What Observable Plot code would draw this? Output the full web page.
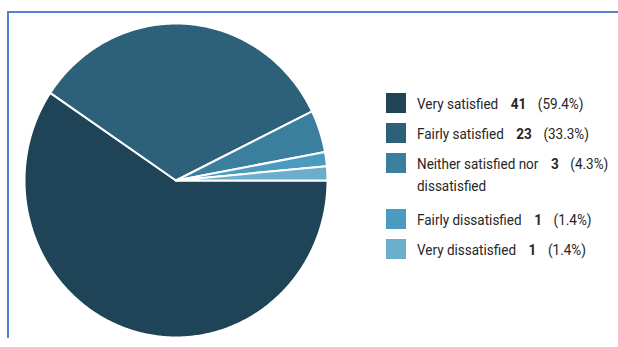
<!DOCTYPE html>
<html>
<head>
<meta charset="utf-8">
<script src="https://cdn.jsdelivr.net/npm/d3@7"></script>
<script src="https://cdn.jsdelivr.net/npm/@observablehq/plot@0.6"></script>
<style>
  html, body { margin: 0; padding: 0; background: #fff; }
  #wrap { position: relative; width: 618px; height: 347px; overflow: hidden; font-family: Roboto, sans-serif; }
  #frame { position: absolute; left: 7px; top: 11px; width: 620px; height: 327px; border-top: 2px solid #5282d6; border-left: 2px solid #5282d6; box-sizing: border-box; }
  #legend { position: absolute; left: 386px; top: 93px; color: #262626; font-size: 14px; }
  .row { display: flex; align-items: flex-start; margin-bottom: 8px; line-height: 22px; }
  .row.multi { margin-bottom: 12px; }
  .sw { width: 20px; height: 20px; flex: none; margin-right: 11px; box-sizing: border-box; }
  .txt { display: flex; transform: scaleX(0.965); transform-origin: left center; white-space: nowrap; margin-top: 0px; }
  .lab { white-space: pre-line; }
  .num { font-weight: bold; margin-left: 13px; }
  .pct { margin-left: 12px; }
</style>
</head>
<body>
<div id="wrap"></div>
<script>
const categories = ["Very satisfied", "Fairly satisfied", "Neither satisfied nor dissatisfied", "Fairly dissatisfied", "Very dissatisfied"];
const legendLabels = ["Very satisfied", "Fairly satisfied", "Neither satisfied nor\ndissatisfied", "Fairly dissatisfied", "Very dissatisfied"];
const counts = [41, 23, 3, 1, 1];
const colors = ["#1f4458", "#2c6179", "#3a7f9e", "#4b9bc0", "#6aaecb"];

const total = d3.sum(counts);
const pie = d3.pie().sort(null).startAngle(Math.PI / 2).endAngle(Math.PI / 2 + 2 * Math.PI);
const arcs = pie(counts);

// slice outlines from the pie layout (unit circle in data space)
const pts = [];
arcs.forEach((a, i) => {
  const key = categories[i];
  pts.push({key, x: 0, y: 0});
  const n = Math.max(4, Math.ceil((a.endAngle - a.startAngle) / 0.01));
  for (let k = 0; k <= n; k++) {
    const t = a.startAngle + (a.endAngle - a.startAngle) * k / n;
    pts.push({key, x: Math.sin(t), y: Math.cos(t)});
  }
  pts.push({key, x: 0, y: 0});
});

const chart = Plot.plot({
  width: 618,
  height: 347,
  margin: 0,
  style: {background: "transparent"},
  x: {domain: [-1, 1], range: [24, 327], axis: null},
  y: {domain: [-1, 1], range: [337, 23], axis: null},
  color: {domain: categories, range: colors},
  marks: [
    Plot.line(pts, {x: "x", y: "y", z: "key", fill: "key", stroke: "white", strokeWidth: 2, strokeLinejoin: "round", curve: "linear"})
  ]
});

const wrap = document.getElementById("wrap");
chart.style.position = "absolute";
chart.style.left = "0px";
chart.style.top = "0px";
wrap.appendChild(chart);

const frame = document.createElement("div");
frame.id = "frame";
wrap.appendChild(frame);

const legend = document.createElement("div");
legend.id = "legend";
categories.forEach((c, i) => {
  const row = document.createElement("div");
  row.className = legendLabels[i].includes("\n") ? "row multi" : "row";
  const sw = document.createElement("div");
  sw.className = "sw";
  sw.style.background = colors[i];
  row.appendChild(sw);
  const txt = document.createElement("div");
  txt.className = "txt";
  const lab = document.createElement("span");
  lab.className = "lab";
  lab.textContent = legendLabels[i];
  const num = document.createElement("span");
  num.className = "num";
  num.textContent = counts[i];
  const pct = document.createElement("span");
  pct.className = "pct";
  pct.textContent = "(" + d3.format(".1f")(counts[i] / total * 100) + "%)";
  txt.append(lab, num, pct);
  row.appendChild(txt);
  legend.appendChild(row);
});
wrap.appendChild(legend);
</script>
</body>
</html>
